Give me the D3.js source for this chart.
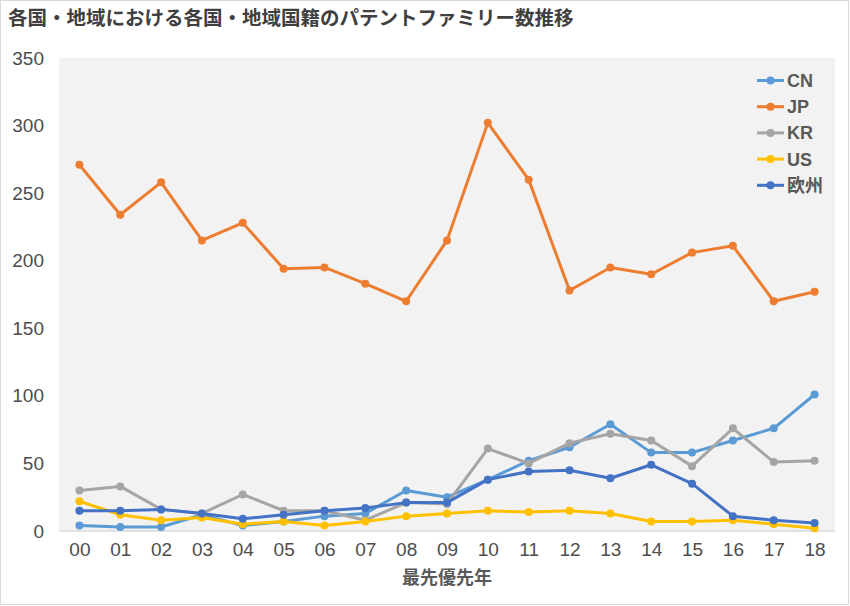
<!DOCTYPE html>
<html><head><meta charset="utf-8">
<script src="https://cdn.jsdelivr.net/npm/d3@7"></script>
<style>
body{margin:0;background:#fff;}
svg{display:block;font-family:"Liberation Sans",Arial,"Noto Sans CJK JP",sans-serif;}
</style></head>
<body><svg id="c" width="850" height="606"></svg>
<script>
const years = ["00","01","02","03","04","05","06","07","08","09","10","11","12","13","14","15","16","17","18"];
const seriesNames = ["CN","JP","KR","US","欧州"];
const seriesColors = ["#5B9BD5","#ED7D31","#A5A5A5","#FFC000","#4472C4"];
const cnValues = [4,3,3,12,4,7,11,13,30,25,38,52,62,79,58,58,67,76,101];
const jpValues = [271,234,258,215,228,194,195,183,170,215,302,260,178,195,190,206,211,170,177];
const krValues = [30,33,16,13,27,15,15,8,21,20,61,50,65,72,67,48,76,51,52];
const usValues = [22,12,8,10,5,7,4,7,11,13,15,14,15,13,7,7,8,5,2];
const euValues = [15,15,16,13,9,12,15,17,21,21,38,44,45,39,49,35,11,8,6];
const yTicks = [0,50,100,150,200,250,300,350];
const chartTitle = "各国・地域における各国・地域国籍のパテントファミリー数推移";
const xTitle = "最先優先年";

const allValues = [cnValues,jpValues,krValues,usValues,euValues];
const svg = d3.select("#c");
const W=850,H=606;
svg.append("rect").attr("x",0.5).attr("y",0.5).attr("width",W-2).attr("height",H-2)
  .attr("fill","#fff").attr("stroke","#D9D9D9");

const pL=59,pR=835,pT=58,pB=531;
svg.append("rect").attr("x",pL).attr("y",pT).attr("width",pR-pL).attr("height",pB-pT).attr("fill","#F2F2F2");

const x = d3.scalePoint().domain(years).range([pL,pR]).padding(0.5);
const y = d3.scaleLinear().domain([0,350]).range([pB,pT]);

svg.append("text").attr("x",8).attr("y",25).text(chartTitle)
  .attr("font-size",19.5).attr("font-weight","bold").attr("fill","#404040");

// y axis
const ya = svg.append("g").attr("transform",`translate(${pL},0)`)
  .call(d3.axisLeft(y).tickValues(yTicks).tickSize(0).tickPadding(15));
ya.select(".domain").remove();
ya.selectAll("text").attr("font-size",19).attr("fill","#4d4d4d").attr("font-family","Liberation Sans, Arial, sans-serif");

// x axis
const xa = svg.append("g").attr("transform",`translate(0,${pB})`)
  .call(d3.axisBottom(x).tickSize(0).tickPadding(12));
xa.select(".domain").attr("stroke","#D9D9D9").attr("stroke-width",1.5).attr("d",`M${pL},0H${pR}`);
xa.selectAll("text").attr("font-size",19).attr("fill","#4d4d4d").attr("font-family","Liberation Sans, Arial, sans-serif");

svg.append("text").attr("x",(pL+pR)/2).attr("y",584).attr("text-anchor","middle")
  .text(xTitle).attr("font-size",18).attr("font-weight","bold").attr("fill","#595959");

const line = d3.line().x((d,i)=>x(years[i])).y(d=>y(d));
allValues.forEach((vals,k)=>{
  const g = svg.append("g");
  g.append("path").datum(vals).attr("d",line).attr("fill","none")
    .attr("stroke",seriesColors[k]).attr("stroke-width",3).attr("stroke-linejoin","round");
  g.selectAll("circle").data(vals).join("circle")
    .attr("cx",(d,i)=>x(years[i])).attr("cy",d=>y(d)).attr("r",4).attr("fill",seriesColors[k]);
});

// legend
const lg = svg.append("g");
seriesNames.forEach((n,k)=>{
  const yy = 80.5 + k*26.2;
  lg.append("line").attr("x1",757).attr("x2",784).attr("y1",yy).attr("y2",yy)
    .attr("stroke",seriesColors[k]).attr("stroke-width",3);
  lg.append("circle").attr("cx",770.5).attr("cy",yy).attr("r",4).attr("fill",seriesColors[k]);
  lg.append("text").attr("x",787).attr("y",yy+6.5).text(n)
    .attr("font-size",18).attr("font-weight","bold").attr("fill","#595959");
});
</script></body></html>
